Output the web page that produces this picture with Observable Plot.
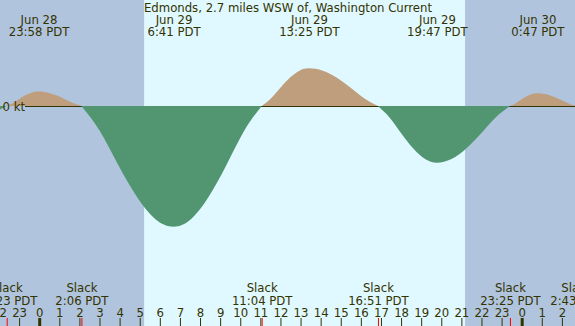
<!DOCTYPE html>
<html><head><meta charset="utf-8">
<script src="https://cdn.jsdelivr.net/npm/d3@7"></script>
<script src="https://cdn.jsdelivr.net/npm/@observablehq/plot@0.6"></script>
<style>html,body{margin:0;padding:0;background:#fff;overflow:hidden} svg{display:block}</style>
</head><body><div id="chart"></div>
<script>
// Time in hours since Jun 29 00:00 PDT; current in knots (flood +, ebb -)
const title = "Edmonds, 2.7 miles WSW of, Washington Current";
const hours = [-1.95, -1.617, -1.303, -0.985, -0.668, -0.350, -0.033, 0.394, 0.820, 1.247, 1.673,
  2.100, 3.017, 3.933, 4.850, 5.767, 6.683, 7.560, 8.437, 9.313, 10.190,
  11.067, 11.537, 12.007, 12.477, 12.947, 13.417, 14.104, 14.790, 15.477, 16.163,
  16.850, 17.437, 18.023, 18.610, 19.196, 19.783, 20.510, 21.237, 21.963, 22.690,
  23.417, 23.690, 23.963, 24.237, 24.510, 24.783, 25.170, 25.557, 25.943, 26.330, 26.717];
const knots = [-0.035, 0, 0.030, 0.071, 0.109, 0.136, 0.145, 0.136, 0.109, 0.071, 0.030,
  0, -0.250, -0.590, -0.905, -1.130, -1.207, -1.130, -0.905, -0.590, -0.250,
  0, 0.078, 0.185, 0.284, 0.353, 0.377, 0.353, 0.284, 0.185, 0.078,
  0, -0.117, -0.278, -0.426, -0.531, -0.567, -0.531, -0.426, -0.278, -0.117,
  0, 0.026, 0.062, 0.095, 0.119, 0.127, 0.119, 0.095, 0.062, 0.026, 0];
const slackHours = [-1.617, 2.100, 11.067, 16.850, 23.417, 26.717];
const slackLabels = ["22:23 PDT", "2:06 PDT", "11:04 PDT", "16:51 PDT", "23:25 PDT", "2:43 PDT"];
const maxHours = [-0.033, 6.683, 13.417, 19.783, 24.783];
const maxDates = ["Jun 28", "Jun 29", "Jun 29", "Jun 29", "Jun 30"];
const maxLabels = ["23:58 PDT", "6:41 PDT", "13:25 PDT", "19:47 PDT", "0:47 PDT"];
const sunEvents = [5.217, 21.183]; // sunrise, sunset
const tickHours = d3.range(-2, 27);
const xDomain = [-1.95, 26.652];
const yDomain = [-2.20, 1.06];

const ink = "#333300", night = "#b0c4de", day = "#e0f8ff", flood = "#be9e7d", ebb = "#519670";
const mod24 = h => ((h % 24) + 24) % 24;

const rows = hours.map((h, i) => ({h, v: knots[i]}));
const segs = []; let cur = [];
rows.forEach(r => { cur.push(r); if (r.v === 0 && cur.length > 1) { segs.push(cur); cur = [r]; } });
if (cur.length > 1) segs.push(cur);
const areaRows = segs.flatMap((s, k) => {
  const sign = Math.sign(d3.sum(s, d => d.v));
  return s.map(d => ({...d, seg: k, sign}));
});
const nights = [[xDomain[0], sunEvents[0]], [sunEvents[1], xDomain[1]]];

const chart = Plot.plot({
  width: 575, height: 326, margin: 0,
  x: {domain: xDomain, axis: null},
  y: {domain: yDomain, axis: null},
  style: {fontFamily: "DejaVu Sans", fontSize: "11.7px", background: day, color: ink},
  marks: [
    Plot.rect(nights, {x1: d => d[0], x2: d => d[1], fill: night}),
    Plot.areaY(areaRows.filter(d => d.sign > 0), {x: "h", y: "v", z: "seg", fill: flood, curve: "natural"}),
    Plot.ruleY([0], {stroke: ink, insetLeft: 25}),
    Plot.areaY(areaRows.filter(d => d.sign < 0), {x: "h", y: "v", z: "seg", fill: ebb, curve: "natural"}),
    Plot.text(["0 kt"], {y: () => 0, frameAnchor: "left", textAnchor: "start", dx: 2, dy: 0.5, text: d => d, fill: ink}),
    Plot.text([title], {frameAnchor: "top", dy: 11.8, lineAnchor: "bottom", text: d => d, fill: ink}),
    Plot.text(maxHours, {x: d => d, frameAnchor: "top", dy: 23.5, lineAnchor: "bottom", text: (d, i) => maxDates[i], fill: ink}),
    Plot.text(maxHours, {x: d => d, frameAnchor: "top", dy: 35.3, lineAnchor: "bottom", text: (d, i) => maxLabels[i], fill: ink}),
    Plot.text(slackHours, {x: d => d, frameAnchor: "bottom", dy: -34.2, lineAnchor: "bottom", text: () => "Slack", fill: ink}),
    Plot.text(slackHours, {x: d => d, frameAnchor: "bottom", dy: -22, lineAnchor: "bottom", text: (d, i) => slackLabels[i], fill: ink}),
    Plot.text(tickHours, {x: d => d, frameAnchor: "bottom", dy: -10, lineAnchor: "bottom", text: d => String(mod24(d)), fill: ink}),
    Plot.ruleX(tickHours.filter(d => mod24(d) !== 0), {x: d => d, stroke: ink, insetTop: 318}),
    Plot.ruleX(tickHours.filter(d => mod24(d) === 0), {x: d => d, stroke: ink, strokeWidth: 3, insetTop: 318}),
    Plot.ruleX(slackHours, {x: d => d, stroke: "red", insetTop: 318})
  ]
});
document.getElementById("chart").append(chart);
</script>
</body></html>
